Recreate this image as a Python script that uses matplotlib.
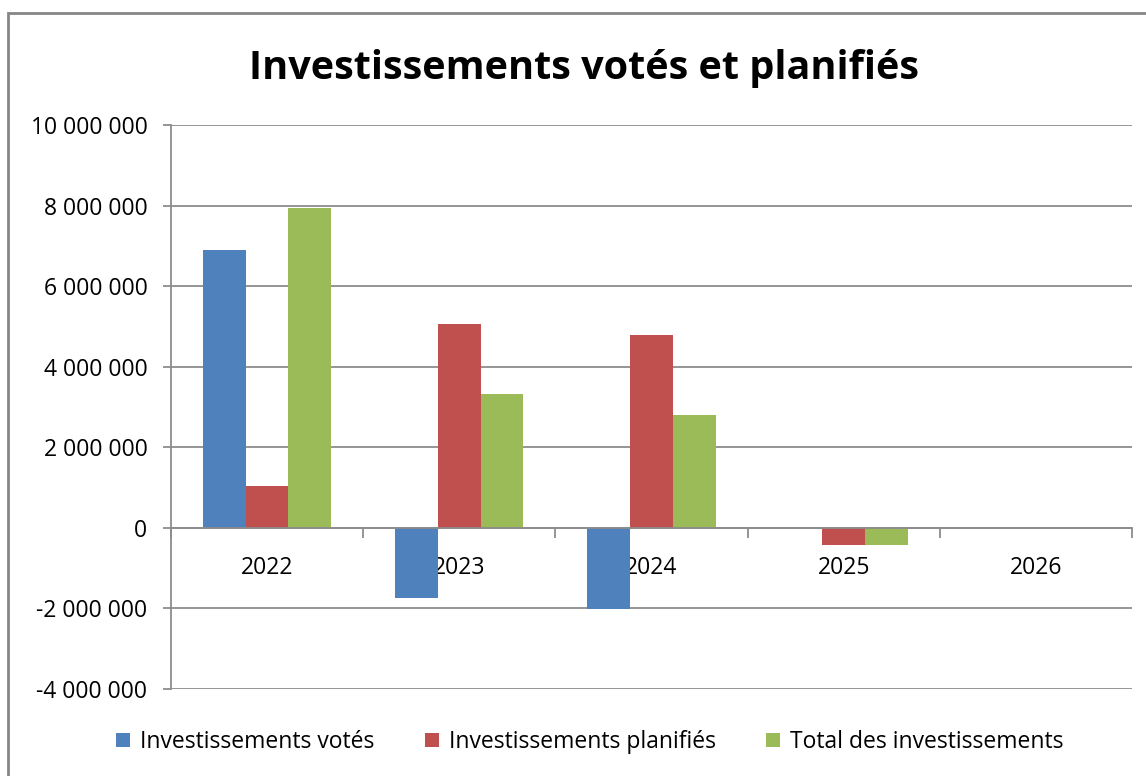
import matplotlib
matplotlib.use('Agg')
import matplotlib.pyplot as plt
import numpy as np
from matplotlib.patches import Rectangle
from matplotlib.ticker import FuncFormatter, FixedLocator

plt.rcParams['font.family'] = ['Open Sans', 'DejaVu Sans']

years = ['2022', '2023', '2024', '2025', '2026']
series_names = ['Investissements votés', 'Investissements planifiés', 'Total des investissements']
votes = [6900000, -1740000, -2010000, 0, 0]
planifies = [1040000, 5060000, 4790000, -420000, 0]
totaux = [7940000, 3330000, 2800000, -420000, 0]
colors = ['#4f81bd', '#c0504d', '#9bbb59']

fig = plt.figure(figsize=(11.46, 7.76), dpi=100)
ax = fig.add_axes([171/1146, 1-689/776, (1132-171)/1146, (689-125)/776])

x = np.arange(len(years))
w = 1/4.5
for k, (vals, name) in enumerate(zip([votes, planifies, totaux], series_names)):
    ax.bar(x + (k-1)*w, vals, w, color=colors[k], label=name, zorder=3)

ax.set_xlim(-0.5, len(years)-0.5)
ax.set_ylim(-4000000, 10000000)
ax.set_yticks(np.arange(-4000000, 10000001, 2000000))
ax.yaxis.set_major_formatter(FuncFormatter(lambda v, p: f'{int(v):,}'.replace(',', ' ')))
ax.grid(axis='y', color='#8c8c8c', linewidth=1.3, zorder=0)
ax.tick_params(axis='y', length=6, width=1.3, color='#8c8c8c', labelsize=16.5, pad=11)

# x axis at zero
ax.spines['bottom'].set_position(('data', 0))
ax.spines['bottom'].set_color('#8c8c8c')
ax.spines['bottom'].set_linewidth(1.3)
ax.spines['bottom'].set_zorder(4)
ax.spines['left'].set_color('#8c8c8c')
ax.spines['left'].set_linewidth(1.3)
ax.spines['top'].set_visible(False)
ax.spines['right'].set_visible(False)
ax.set_xticks(x)
ax.set_xticklabels(years)
ax.xaxis.set_minor_locator(FixedLocator(np.arange(-0.5, len(years), 1.0)))
ax.tick_params(axis='x', which='major', length=0, labelsize=16.5, pad=20)
ax.tick_params(axis='x', which='minor', length=7, width=1.3, color='#8c8c8c', direction='out')

fig.text(584/1146, 1-68/776, 'Investissements votés et planifiés', ha='center', va='center',
         fontsize=28.5, fontweight='bold')

fig.legend(loc='center', bbox_to_anchor=(590/1146, 1-742/776), ncol=3, frameon=False,
           fontsize=16.5, handlelength=0.6, handleheight=0.6, handletextpad=0.45,
           columnspacing=2.2)

fig.patches.append(Rectangle((8/1146, -0.05), 1.1, 1-13/776+0.05, transform=fig.transFigure,
                             fill=False, edgecolor='#868686', linewidth=2))

fig.savefig('out.png', dpi=100)
